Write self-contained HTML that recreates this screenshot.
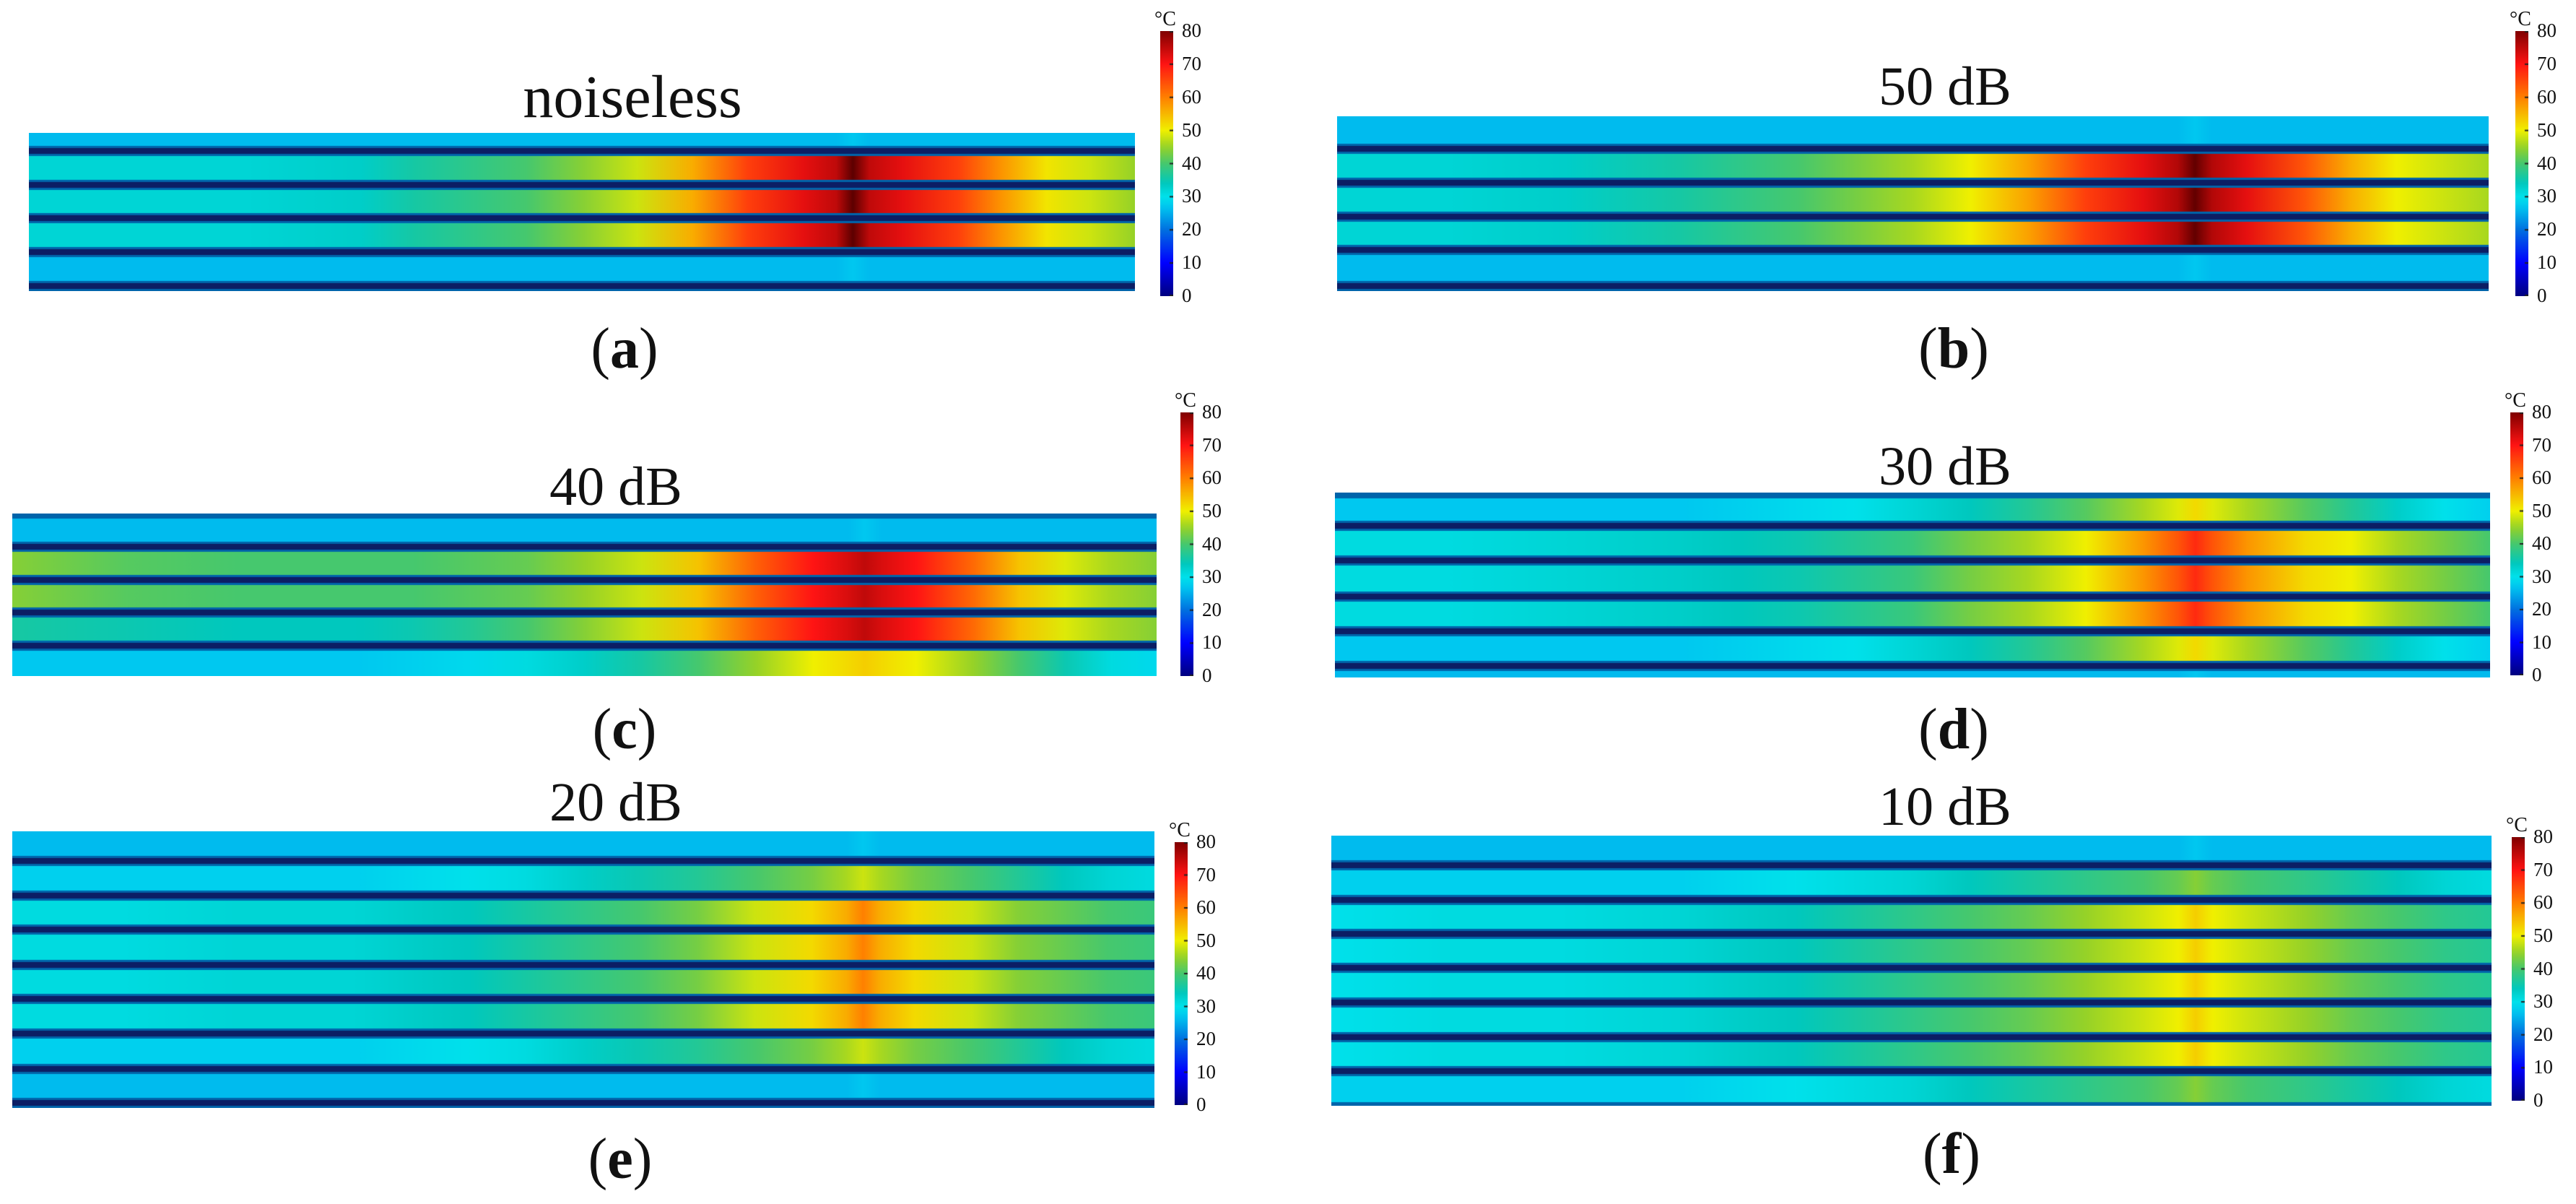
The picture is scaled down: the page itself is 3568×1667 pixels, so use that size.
<!DOCTYPE html>
<html><head><meta charset="utf-8">
<style>
html,body{margin:0;padding:0;background:#fff;}
body{width:3568px;height:1667px;position:relative;overflow:hidden;font-family:"Liberation Serif",serif;color:#111;}
.t{position:absolute;white-space:nowrap;line-height:1;transform:translateX(-50%);}
canvas{position:absolute;}
.tick{position:absolute;font-size:27px;line-height:1;}
.deg{position:absolute;font-size:28px;line-height:1;}
</style></head>
<body>
<div id="root"></div>
<script>
// ---------- data ----------
const cols = [0,.1,.2,.3,.35,.4,.45,.5,.55,.6,.65,.7,.73,.745,.76,.79,.84,.88,.92,.96,1];
const cbTicks = [0,10,20,30,40,50,60,70,80];
const cmapVals = [0,10,20,27,30,34,40,45,50,60,70,80,90];
const cmapCols = [[0,0,128],[0,0,255],[0,112,224],[0,200,240],[0,225,235],[0,200,190],[70,200,110],[150,210,40],[240,240,0],[255,128,0],[255,20,20],[128,0,0],[70,0,0]];
const lineEdgeCol = [0,100,170];
const lineCoreCol = [12,30,100];

const coolA = [26,26,26,26,26,26,26,26,26,26,26,26,26,27,26,26,26,26,26,26,26];
const hotA  = [32,32,32,33,36,38,40,44,48,56,66,72,75,86,75,72,66,58,51,48,45];
const hotB  = [32,32,33,36,38,40,43,46,50,57,66,72,76,85,76,72,64,56,50,48,46];
const hotC1 = [44,41,40,40,40,41,42,45,48,54,63,70,73,75,73,70,62,54,49,46,44];
const hotC2 = [36,35,34,34,35,37,40,44,48,54,63,70,73,75,73,70,62,54,49,46,44];
const warmC = [27,27,27,27,28,29,31,33,36,40,45,50,52,53,52,50,45,40,35,31,29];
const hotD  = [31,31,32,33,34,35,37,39,43,46,50,58,64,68,64,58,52,50,46,43,40];
const warmD = [27,27,27,27,28,29,30,32,34,37,41,46,49,52,49,46,41,37,33,30,28];
const hotE  = [31,31,32,32,33,34,36,38,40,43,48,52,56,60,56,52,48,44,42,40,39];
const warmE = [28,28,28,28,29,30,31,33,35,37,40,43,46,48,46,43,40,37,34,32,31];
const hotF  = [30,31,31,32,33,34,36,38,40,42,45,48,50,53,50,48,45,42,40,38,37];
const warmF = [28,28,28,28,29,30,31,32,34,36,38,40,42,44,42,40,38,36,34,32,31];

const bandsA = [coolA,hotA,hotA,hotA,coolA,coolA];
const bandsB = [coolA,hotB,hotB,hotB,coolA,coolA];
const bandsC = [coolA,hotC1,hotC1,hotC2,warmC];
const bandsD = [warmD,hotD,hotD,hotD,warmD,coolA];
const bandsE = [coolA,warmE,hotE,hotE,hotE,hotE,warmE,coolA,coolA];
const bandsF = [coolA,warmF,hotF,hotF,hotF,hotF,hotF,warmF];

const linesA = [209,256,302,349,396];
const linesB = [206,253,300,346,396];
const linesC = [757,803,848,894];
const linesD = [728,776,826,874,922];
const linesE = [1192,1240,1287,1336,1383,1431,1480,1527];
const linesF = [1198,1246,1293,1340,1388,1436,1483];

const panels = [
 {id:'a',title:'noiseless',tx:876,tTop:93,tSize:84,x0:40,x1:1572,y0:184,y1:403,lines:linesA,bands:bandsA,cb:[1607,43,410],lx:865,lc:491,edge:[]},
 {id:'b',title:'50 dB',tx:2694,tc:125,tSize:76,x0:1852,x1:3447,y0:161,y1:403,lines:linesB,bands:bandsB,cb:[3484,43,410],lx:2706,lc:491,edge:[]},
 {id:'c',title:'40 dB',tx:853,tc:679,tSize:76,x0:17,x1:1602,y0:711,y1:936,lines:linesC,bands:bandsC,cb:[1635,571,936],lx:865,lc:1018,edge:[714]},
 {id:'d',title:'30 dB',tx:2694,tc:651,tSize:76,x0:1849,x1:3449,y0:682,y1:938,lines:linesD,bands:bandsD,cb:[3477,571,935],lx:2706,lc:1018,edge:[686]},
 {id:'e',title:'20 dB',tx:853,tc:1116,tSize:76,x0:17,x1:1599,y0:1151,y1:1534,lines:linesE,bands:bandsE,cb:[1627,1166,1530],lx:859,lc:1613,edge:[]},
 {id:'f',title:'10 dB',tx:2694,tc:1122,tSize:76,x0:1844,x1:3451,y0:1157,y1:1531,lines:linesF,bands:bandsF,cb:[3479,1159,1524],lx:2703,lc:1606,edge:[1530]}
];

// ---------- helpers ----------
function color(v){
  if(v<=cmapVals[0]) return cmapCols[0];
  for(let i=1;i<cmapVals.length;i++){
    if(v<=cmapVals[i]){
      const t=(v-cmapVals[i-1])/(cmapVals[i]-cmapVals[i-1]);
      const a=cmapCols[i-1],b=cmapCols[i];
      return [0,1,2].map(k=>Math.round(a[k]+(b[k]-a[k])*t));
    }
  }
  return cmapCols[cmapCols.length-1];
}
function rgb(v){const c=color(v);return 'rgb('+c[0]+','+c[1]+','+c[2]+')';}
function rgbc(c){return 'rgb('+c[0]+','+c[1]+','+c[2]+')';}
const root=document.getElementById('root');

panels.forEach(p=>{
  const t=document.createElement('div');
  t.className='t';
  
  
  t.style.left=p.tx+'px';
  t.style.fontSize=p.tSize+'px';
  t.style.top=(p.tTop!==undefined?p.tTop:(p.tc-0.56*p.tSize))+'px';
  t.textContent=p.title;
  root.appendChild(t);
  const l=document.createElement('div');
  l.className='t';
  
  
  l.style.left=p.lx+'px';
  l.style.fontSize='80px';
  l.style.top=(p.lc-0.6*80)+'px';
  l.innerHTML='(<b>'+p.id+'</b>)';
  root.appendChild(l);
  const w=p.x1-p.x0,h=p.y1-p.y0;
  const cv=document.createElement('canvas');
  
  
  cv.width=w;cv.height=h;cv.style.left=p.x0+'px';cv.style.top=p.y0+'px';
  root.appendChild(cv);
  const ctx=cv.getContext('2d');
  const edges=[p.y0].concat(p.lines).concat([p.y1]);
  p.bands.forEach((prof,i)=>{
    const ya=edges[i]-p.y0, yb=(edges[i+1]!==undefined?edges[i+1]:p.y1)-p.y0;
    const g=ctx.createLinearGradient(0,0,w,0);
    cols.forEach((c,k)=>g.addColorStop(c,rgb(prof[k])));
    ctx.fillStyle=g;
    ctx.fillRect(0,ya,w,yb-ya+1);
  });
  p.lines.forEach(y=>{
    const yy=y-p.y0;
    ctx.fillStyle=rgbc(lineEdgeCol);ctx.fillRect(0,yy-7,w,14);
    ctx.fillStyle=rgbc(lineCoreCol);ctx.fillRect(0,yy-4,w,8);
  });
  p.edge.forEach(y=>{
    const yy=y-p.y0;
    ctx.fillStyle=rgbc(lineEdgeCol);ctx.fillRect(0,yy-4,w,8);
  });
  const [cx,cy0,cy1]=p.cb;
  const cb=document.createElement('canvas');
  
  
  cb.width=18;cb.height=cy1-cy0;cb.style.left=cx+'px';cb.style.top=cy0+'px';
  root.appendChild(cb);
  const c2=cb.getContext('2d');
  const g2=c2.createLinearGradient(0,cb.height,0,0);
  for(let v=0;v<=80;v+=2) g2.addColorStop(v/80,rgb(v));
  c2.fillStyle=g2;c2.fillRect(0,0,18,cb.height);
  c2.fillStyle='#222';
  cbTicks.forEach(v=>{
    const yy=cb.height-(v/80)*cb.height;
    c2.fillRect(13,Math.max(0,Math.min(cb.height-2,yy-1)),5,2);
  });
  cbTicks.forEach(v=>{
    const d=document.createElement('div');
    d.className='tick';
    
    
    d.style.left=(cx+30)+'px';
    d.style.top=(cy1-(v/80)*(cy1-cy0)-14)+'px';
    d.textContent=v;
    root.appendChild(d);
  });
  const dg=document.createElement('div');
  dg.className='deg';
  
  
  dg.style.left=(cx-8)+'px';
  dg.style.top=(cy0-30)+'px';
  dg.textContent='°C';
  root.appendChild(dg);
});
</script>
</body></html>
